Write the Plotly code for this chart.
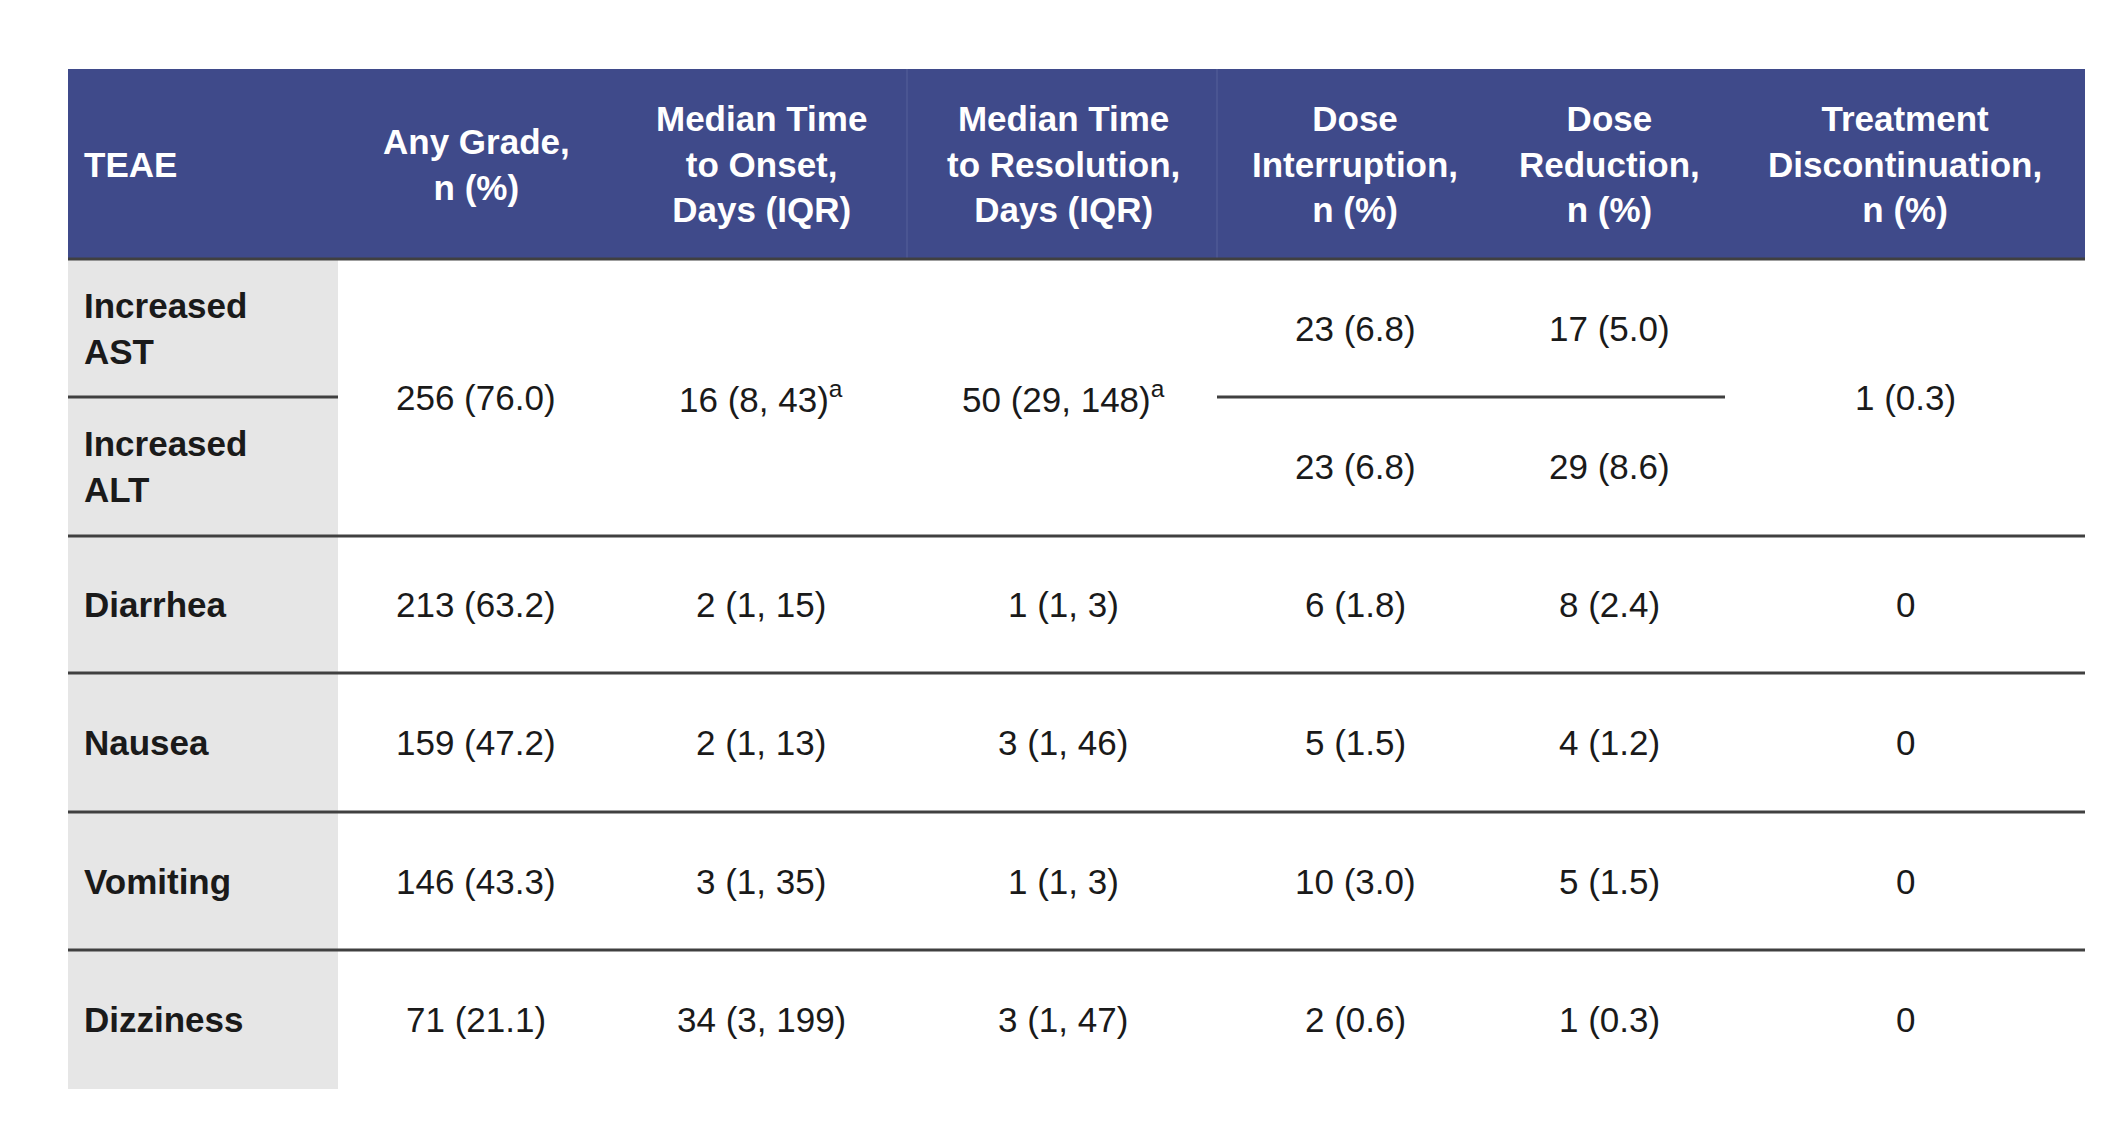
import plotly.graph_objects as go


def render():
    # Table geometry in pixels
    left, right = 60, 2077
    cols = [60, 330, 607, 899, 1209, 1485, 1717, 2077]
    rows = [61, 251, 528, 665, 804, 942, 1081]
    mid = 389  # split between AST and ALT
    centers = [468, 753, 1055, 1347, 1601, 1897]

    header = ["TEAE", "Any Grade,<br>n (%)", "Median Time<br>to Onset,<br>Days (IQR)",
              "Median Time<br>to Resolution,<br>Days (IQR)", "Dose<br>Interruption,<br>n (%)",
              "Dose<br>Reduction,<br>n (%)", "Treatment<br>Discontinuation,<br>n (%)"]

    body = [
        ["Diarrhea", "213 (63.2)", "2 (1, 15)", "1 (1, 3)", "6 (1.8)", "8 (2.4)", "0"],
        ["Nausea", "159 (47.2)", "2 (1, 13)", "3 (1, 46)", "5 (1.5)", "4 (1.2)", "0"],
        ["Vomiting", "146 (43.3)", "3 (1, 35)", "1 (1, 3)", "10 (3.0)", "5 (1.5)", "0"],
        ["Dizziness", "71 (21.1)", "34 (3, 199)", "3 (1, 47)", "2 (0.6)", "1 (0.3)", "0"],
    ]

    fig_dict = {"data": [], "layout": {}, "frames": []}
    fig_dict["layout"]["xaxis"] = dict(range=[0, 2127], visible=False, fixedrange=True)
    fig_dict["layout"]["yaxis"] = dict(range=[1135, 0], visible=False, fixedrange=True)
    fig_dict["layout"]["margin"] = dict(l=0, r=0, t=0, b=0)
    fig_dict["layout"]["width"] = 2127
    fig_dict["layout"]["height"] = 1135
    fig_dict["layout"]["plot_bgcolor"] = "white"
    fig_dict["layout"]["paper_bgcolor"] = "white"
    fig_dict["layout"]["showlegend"] = False

    shapes = []
    ann = []
    line = dict(color="#404040", width=3)

    # header band and grey first column
    shapes.append(dict(type="rect", x0=left, x1=right, y0=rows[0], y1=rows[1],
                       fillcolor="#3f4a8a", line=dict(width=0), layer="below"))
    shapes.append(dict(type="rect", x0=cols[0], x1=cols[1], y0=rows[1], y1=rows[-1],
                       fillcolor="#e6e6e6", line=dict(width=0), layer="below"))
    for xv in [cols[3], cols[4]]:
        shapes.append(dict(type="line", x0=xv, x1=xv, y0=rows[0], y1=rows[1],
                           line=dict(color="#56609a", width=1)))

    # horizontal rules
    for yv in rows[1:-1]:
        shapes.append(dict(type="line", x0=left, x1=right, y0=yv, y1=yv, line=line))
    shapes.append(dict(type="line", x0=cols[0], x1=cols[1], y0=mid, y1=mid, line=line))
    shapes.append(dict(type="line", x0=cols[4], x1=cols[6], y0=mid, y1=mid, line=line))

    hfont = dict(family="Liberation Sans, Arial", size=35, color="white")
    bfont = dict(family="Liberation Sans, Arial", size=35, color="#1a1a1a")
    yh = (rows[0] + rows[1]) / 2
    ann.append(dict(x=cols[0] + 14, y=yh, text="<b>" + header[0] + "</b>", xanchor="left",
                    showarrow=False, font=hfont))
    for cx, h in zip(centers, header[1:]):
        ann.append(dict(x=cx, y=yh, text="<b>" + h + "</b>", showarrow=False, font=hfont))

    # AST / ALT merged row
    ya, yb = (rows[1] + mid) / 2, (mid + rows[2]) / 2
    ann.append(dict(x=cols[0] + 14, y=ya, text="<b>Increased<br>AST</b>", xanchor="left",
                    align="left", showarrow=False, font=bfont))
    ann.append(dict(x=cols[0] + 14, y=yb, text="<b>Increased<br>ALT</b>", xanchor="left",
                    align="left", showarrow=False, font=bfont))
    merged = ["256 (76.0)", "16 (8, 43)<sup>a</sup>", "50 (29, 148)<sup>a</sup>"]
    for cx, t in zip(centers[:3], merged):
        ann.append(dict(x=cx, y=mid, text=t, showarrow=False, font=bfont))
    ann.append(dict(x=centers[5], y=mid, text="1 (0.3)", showarrow=False, font=bfont))
    for cx, ta, tb in [(centers[3], "23 (6.8)", "23 (6.8)"), (centers[4], "17 (5.0)", "29 (8.6)")]:
        ann.append(dict(x=cx, y=ya, text=ta, showarrow=False, font=bfont))
        ann.append(dict(x=cx, y=yb, text=tb, showarrow=False, font=bfont))

    for i, r in enumerate(body):
        yc = (rows[i + 2] + rows[i + 3]) / 2
        ann.append(dict(x=cols[0] + 14, y=yc, text="<b>" + r[0] + "</b>", xanchor="left",
                        showarrow=False, font=bfont))
        for cx, t in zip(centers, r[1:]):
            ann.append(dict(x=cx, y=yc, text=t, showarrow=False, font=bfont))

    fig_dict["layout"]["shapes"] = shapes
    fig_dict["layout"]["annotations"] = ann

    fig = go.Figure(fig_dict)
    fig.write_html("out.html")


render()
